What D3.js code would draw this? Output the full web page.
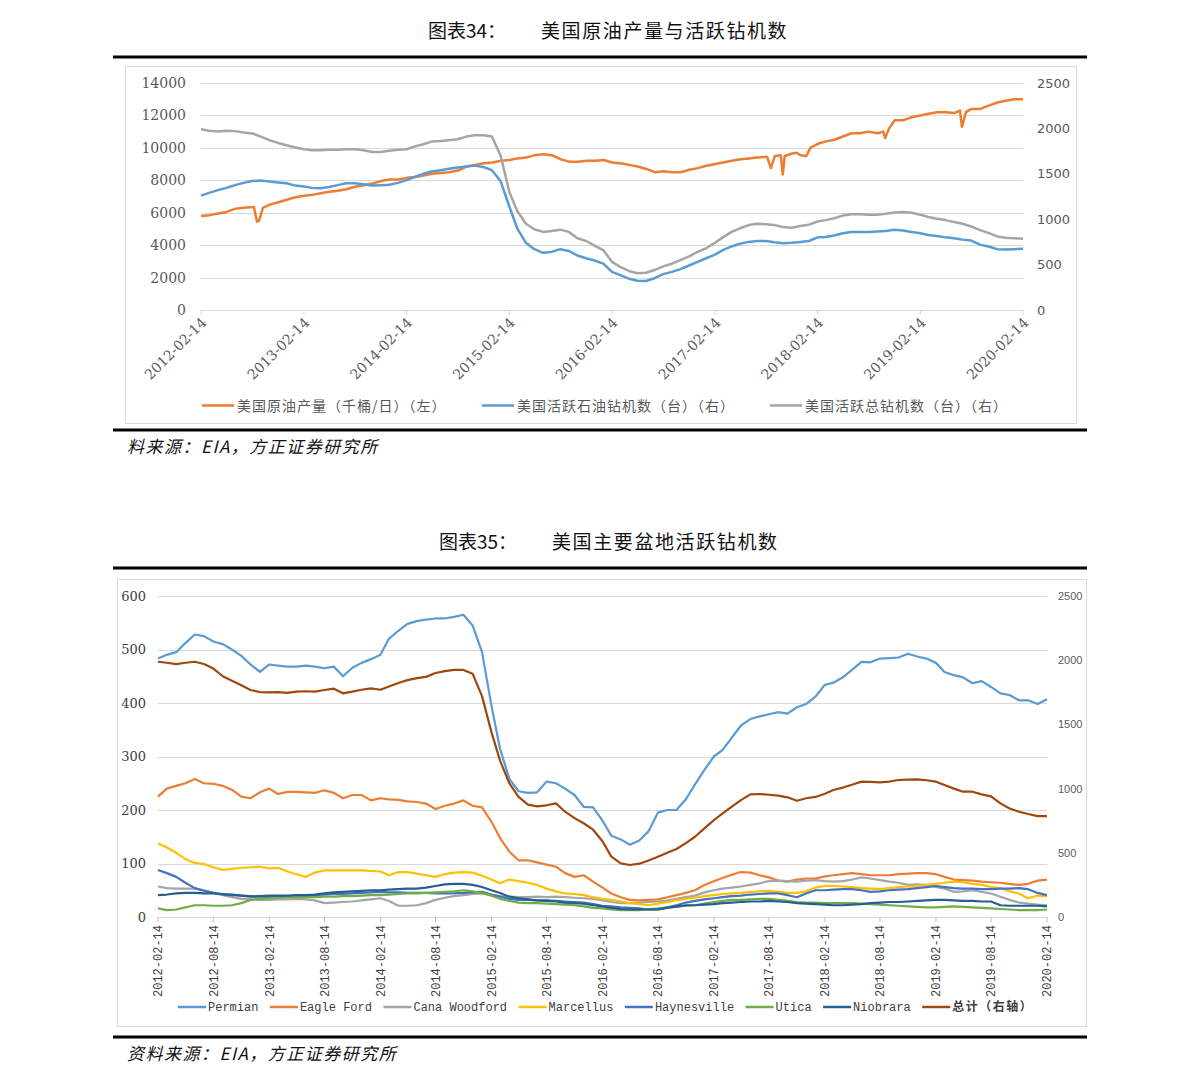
<!DOCTYPE html>
<html><head><meta charset="utf-8">
<script src="https://cdn.jsdelivr.net/npm/d3@7"></script>
<style>body{margin:0;background:#fff}svg{display:block}</style>
</head><body>
<svg id="c" width="1191" height="1086"></svg>
<script>
// ---------------- DATA ----------------
// Chart 34: US crude production (k b/d, left axis) — irregular dates to keep hurricane dips
const oilProdDates = ["2012-02-14","2012-03-15","2012-04-15","2012-05-15","2012-06-15","2012-07-15","2012-08-20","2012-08-31","2012-09-07","2012-09-21",
"2012-10-15","2012-11-15","2012-12-15","2013-01-15","2013-02-15","2013-03-15","2013-04-15","2013-05-15","2013-06-15","2013-07-15","2013-08-15",
"2013-09-15","2013-10-15","2013-11-15","2013-12-15","2014-01-15","2014-02-15","2014-03-15","2014-04-15","2014-05-15","2014-06-15","2014-07-15",
"2014-08-15","2014-09-15","2014-10-15","2014-11-15","2014-12-15","2015-01-15","2015-02-15","2015-03-15","2015-04-15","2015-05-15","2015-06-15",
"2015-07-15","2015-08-15","2015-09-15","2015-10-15","2015-11-15","2015-12-15","2016-01-15","2016-02-15","2016-03-15","2016-04-15","2016-05-15",
"2016-06-15","2016-07-15","2016-08-15","2016-09-15","2016-10-15","2016-11-15","2016-12-15","2017-01-15","2017-02-15","2017-03-15","2017-04-15",
"2017-05-15","2017-06-15","2017-07-15","2017-08-18","2017-09-01","2017-09-15","2017-10-06","2017-10-13","2017-10-20","2017-11-15","2017-12-01",
"2017-12-15","2018-01-05","2018-01-19","2018-02-15","2018-03-15","2018-04-15","2018-05-15","2018-06-15","2018-07-15","2018-08-15","2018-09-15",
"2018-10-05","2018-10-12","2018-10-26","2018-11-15","2018-12-15","2019-01-15","2019-02-15","2019-03-15","2019-04-15","2019-05-15","2019-06-15",
"2019-07-05","2019-07-12","2019-07-26","2019-08-15","2019-09-15","2019-10-15","2019-11-15","2019-12-15","2020-01-15","2020-02-14"];
const oilProd = [5800,5850,5950,6050,6250,6300,6350,5450,5500,6300,
6500,6650,6800,6950,7050,7100,7200,7300,7350,7450,7600,
7700,7800,7950,8050,8050,8150,8200,8300,8400,8450,8500,
8600,8850,8950,9050,9100,9200,9250,9350,9400,9550,9600,
9550,9300,9150,9150,9200,9200,9250,9100,9050,8950,8850,
8700,8500,8550,8500,8500,8650,8750,8900,9000,9100,9200,
9300,9350,9400,9450,8750,9500,9550,8350,9500,9650,9700,
9550,9500,10000,10250,10400,10500,10700,10900,10900,11000,10900,
11000,10600,11200,11700,11700,11900,12000,12100,12200,12200,12150,
12300,11300,12200,12400,12400,12600,12800,12900,13000,13000];

// monthly series, 2012-02-14 ... 2020-02-14 (97 points)
const oilRigs = [1260,1290,1320,1345,1375,1400,1420,1425,1415,1405,1395,
1370,1360,1345,1340,1355,1375,1395,1395,1385,1370,1375,1380,
1400,1430,1465,1500,1525,1540,1555,1570,1580,1590,1575,1540,
1420,1140,900,740,670,630,640,670,650,600,570,545,
510,420,385,345,322,320,350,395,420,450,490,530,
570,610,660,700,730,750,760,760,745,735,740,750,
760,800,805,820,845,860,860,860,865,870,885,875,
860,845,825,815,800,790,775,765,720,700,670,665,
670,675];
const totalRigs = [1990,1975,1965,1975,1970,1955,1945,1910,1870,1840,1815,
1790,1770,1760,1760,1765,1765,1770,1770,1760,1740,1740,1755,
1765,1770,1800,1825,1855,1860,1870,1880,1910,1925,1925,1910,
1700,1300,1090,950,890,860,870,885,860,790,760,710,
660,530,475,430,405,410,440,480,510,550,590,640,
680,740,800,860,900,935,950,945,935,915,905,925,
940,975,990,1010,1040,1055,1055,1050,1050,1060,1075,1080,
1070,1050,1025,1005,990,970,950,920,880,850,810,795,
790,785];

// Chart 35: basin rig counts (monthly, 97 points)
const permian = [483,490,495,512,528,525,515,510,500,488,472,
458,472,470,468,468,470,468,465,468,450,466,475,
482,490,520,535,548,553,556,558,558,561,565,545,
495,395,315,258,235,232,233,253,250,240,228,206,
205,180,152,145,135,143,160,195,200,200,220,248,
275,300,312,335,358,370,375,379,383,380,392,398,
412,434,438,448,462,477,476,483,484,485,492,487,
483,475,458,452,448,437,441,430,418,415,405,405,
398,407];
const eagleFord = [225,240,245,250,258,250,249,245,238,225,222,
233,240,230,234,234,233,232,237,232,222,228,228,
218,222,220,219,216,215,212,202,208,212,218,208,
205,178,148,122,106,106,102,98,94,82,75,78,
66,55,44,37,32,31,32,33,37,41,45,50,
60,67,73,79,84,83,78,74,68,66,70,72,
72,76,78,80,82,80,78,78,78,80,81,82,
82,80,75,70,69,68,66,65,64,62,60,62,
68,70];
const canaWoodford = [57,54,53,53,53,50,45,41,37,34,33,
32,32,33,33,34,33,31,26,27,28,29,31,
33,35,30,21,21,22,26,32,36,39,41,43,
44,41,39,38,37,37,38,37,38,37,36,35,
34,31,28,26,26,27,28,29,31,34,37,40,
46,50,53,55,57,60,63,67,68,67,66,68,
69,67,66,67,70,74,72,69,66,64,60,61,
60,56,53,47,48,50,47,44,38,32,27,25,
23,22];
const marcellus = [138,130,120,108,101,99,93,88,90,92,93,
94,91,92,85,80,75,83,87,87,87,87,87,
86,85,78,84,84,81,78,75,80,83,84,83,
77,70,63,70,67,64,60,53,48,44,43,41,
37,34,32,29,26,24,22,25,28,31,34,36,
39,41,43,44,45,47,48,49,47,45,45,48,
55,58,58,57,56,54,53,52,54,56,57,58,
60,62,64,66,65,62,60,56,54,48,44,35,
40,39];
const haynesville = [88,82,75,64,54,49,45,42,41,40,39,
38,37,37,38,39,40,41,42,43,43,44,45,
46,47,46,46,45,45,45,44,44,44,45,46,
47,42,38,34,32,32,31,31,30,29,28,27,
24,21,20,18,17,16,14,14,18,22,27,30,
33,35,37,39,40,42,43,44,44,41,37,44,
50,50,51,52,52,50,47,48,50,51,52,54,
56,58,56,54,53,53,52,52,53,53,54,52,
45,41];
const utica = [16,13,14,18,22,22,21,21,22,26,32,
34,35,36,37,37,37,37,38,38,39,39,40,
41,41,42,43,44,44,45,46,47,48,50,48,
45,40,34,30,27,26,26,25,24,23,22,20,
17,16,14,13,13,13,15,16,18,19,21,22,
25,28,30,32,32,33,34,34,32,30,28,27,
27,26,26,26,26,25,24,23,22,21,20,19,
18,18,19,20,19,18,17,16,15,14,13,13,
13,14];
const niobrara = [41,42,44,45,45,44,44,43,42,40,38,
39,40,40,40,41,41,42,44,46,47,48,49,
50,50,51,52,53,53,55,58,61,62,62,60,
56,50,45,38,35,33,31,30,29,27,26,25,
22,20,17,15,14,14,14,14,17,20,22,22,
23,24,26,27,28,29,29,30,29,28,26,25,
24,23,22,22,23,24,26,27,28,28,29,30,
31,32,32,31,30,30,29,29,22,21,21,21,
21,20];
const basinTotal = [1988,1980,1970,1980,1988,1970,1935,1875,1840,1805,1768,
1752,1750,1752,1745,1755,1758,1755,1768,1778,1742,1755,1770,
1780,1770,1795,1822,1845,1860,1870,1900,1915,1924,1924,1895,
1720,1440,1220,1040,935,875,862,870,885,820,770,730,
680,590,470,418,405,415,440,470,500,530,575,625,
690,755,805,860,910,955,958,952,945,932,905,925,
935,960,989,1008,1030,1054,1052,1048,1055,1067,1070,1072,
1065,1054,1028,1000,976,976,955,940,885,845,820,802,
786,786];

// tick labels
const topXTicks = ["2012-02-14","2013-02-14","2014-02-14","2015-02-14","2016-02-14","2017-02-14","2018-02-14","2019-02-14","2020-02-14"];
const topLeftTicks = [0,2000,4000,6000,8000,10000,12000,14000];
const topRightTicks = [0,500,1000,1500,2000,2500];
const botXTicks = ["2012-02-14","2012-08-14","2013-02-14","2013-08-14","2014-02-14","2014-08-14","2015-02-14","2015-08-14","2016-02-14","2016-08-14","2017-02-14","2017-08-14","2018-02-14","2018-08-14","2019-02-14","2019-08-14","2020-02-14"];
const botLeftTicks = [0,100,200,300,400,500,600];
const botRightTicks = [0,500,1000,1500,2000,2500];
const topLegend = ["美国原油产量（千桶/日）（左）","美国活跃石油钻机数（台）（右）","美国活跃总钻机数（台）（右）"];
const basinNames = ["Permian","Eagle Ford","Cana Woodford","Marcellus","Haynesville","Utica","Niobrara","总计（右轴）"];

// ---------------- DRAW ----------------
const parse = d3.timeParse("%Y-%m-%d");
const fmt = d3.format("d");
const monthDates = d3.range(oilRigs.length).map(i => new Date(2012, 1 + i, 14));
const svg = d3.select("#c");
const CJK = "'Noto Sans CJK SC', sans-serif";
const GRID = "#D9D9D9", TXT = "#595959";

function rule(y){ svg.append("rect").attr("x",113).attr("y",y).attr("width",974).attr("height",3).attr("fill","#000"); }
function heading(y, a, b, xa, xb){
  svg.append("text").attr("x",xa).attr("y",y).text(a).attr("font-family",CJK).attr("font-size",19).attr("fill","#111");
  svg.append("text").attr("x",xb).attr("y",y).text(b).attr("font-family",CJK).attr("font-size",19).attr("letter-spacing",1.6).attr("fill","#111");
}
function source(y, t){
  svg.append("text").attr("x",127).attr("y",y).text(t).attr("font-family",CJK).attr("font-size",17)
    .attr("font-style","italic").attr("letter-spacing",1.5).attr("fill","#111");
}

// ===== Chart 34 =====
heading(38,"图表34：","美国原油产量与活跃钻机数",428,541);
rule(55.5);
svg.append("rect").attr("x",125.5).attr("y",66.5).attr("width",951).attr("height",357).attr("fill","none").attr("stroke",GRID);

const xT = d3.scaleTime().domain([parse("2012-02-14"), parse("2020-02-14")]).range([201,1023]);
const yTL = d3.scaleLinear().domain([0,14000]).range([310,83]);
const yTR = d3.scaleLinear().domain([0,2500]).range([310,83]);

const gT = svg.append("g");
gT.append("g").selectAll("line").data(topLeftTicks).join("line")
  .attr("x1",201).attr("x2",1023).attr("y1",d=>Math.round(yTL(d))+0.5).attr("y2",d=>Math.round(yTL(d))+0.5)
  .attr("stroke",GRID).attr("stroke-width",1.2);
gT.append("g").selectAll("line").data(topXTicks).join("line")
  .attr("x1",d=>xT(parse(d))).attr("x2",d=>xT(parse(d))).attr("y1",310).attr("y2",315).attr("stroke",GRID);

const axL = gT.append("g").attr("transform","translate(201,0)").call(d3.axisLeft(yTL).tickValues(topLeftTicks).tickFormat(fmt).tickSize(0).tickPadding(15));
axL.select(".domain").remove();
axL.selectAll("text").attr("font-family","'DejaVu Serif', serif").attr("font-size",14).attr("fill",TXT);
const axR = gT.append("g").attr("transform","translate(1023,0)").call(d3.axisRight(yTR).tickValues(topRightTicks).tickFormat(fmt).tickSize(0).tickPadding(14));
axR.select(".domain").remove();
axR.selectAll("text").attr("font-family","'DejaVu Sans', sans-serif").attr("font-size",13).attr("fill",TXT);

gT.append("g").selectAll("text").data(topXTicks).join("text")
  .attr("transform",d=>`translate(${xT(parse(d))+3},${320}) rotate(-45)`)
  .attr("text-anchor","end").attr("dy","0.35em").text(d=>d)
  .attr("font-family","'DejaVu Serif', serif").attr("font-size",14).attr("fill",TXT);

const lineProd = d3.line().x((d,i)=>xT(parse(oilProdDates[i]))).y(d=>yTL(d));
const lineRigT = d3.line().x((d,i)=>xT(monthDates[i])).y(d=>yTR(d));
gT.append("path").attr("d",lineProd(oilProd)).attr("fill","none").attr("stroke","#ED7D31").attr("stroke-width",2.5).attr("stroke-linejoin","round");
gT.append("path").attr("d",lineRigT(oilRigs)).attr("fill","none").attr("stroke","#5B9BD5").attr("stroke-width",2.5).attr("stroke-linejoin","round");
gT.append("path").attr("d",lineRigT(totalRigs)).attr("fill","none").attr("stroke","#A5A5A5").attr("stroke-width",2.5).attr("stroke-linejoin","round");

const topLegX = [202,482,770], topLegC = ["#ED7D31","#5B9BD5","#A5A5A5"];
topLegend.forEach((t,i)=>{
  svg.append("line").attr("x1",topLegX[i]).attr("x2",topLegX[i]+32).attr("y1",405.5).attr("y2",405.5).attr("stroke",topLegC[i]).attr("stroke-width",2.5);
  svg.append("text").attr("x",topLegX[i]+35).attr("y",410.5).text(t).attr("font-family",CJK).attr("font-size",14)
    .attr("letter-spacing",1).attr("fill",TXT);
});
rule(428.5);
source(453,"料来源：EIA，方正证券研究所");

// ===== Chart 35 =====
heading(549,"图表35：","美国主要盆地活跃钻机数",439,552);
rule(566.5);
svg.append("rect").attr("x",117.5).attr("y",579.5).attr("width",969).attr("height",447).attr("fill","none").attr("stroke",GRID);

const xB = d3.scaleTime().domain([parse("2012-02-14"), parse("2020-02-14")]).range([158,1047]);
const yBL = d3.scaleLinear().domain([0,600]).range([917,596]);
const yBR = d3.scaleLinear().domain([0,2500]).range([917,596]);

const gB = svg.append("g");
gB.append("g").selectAll("line").data(botLeftTicks).join("line")
  .attr("x1",158).attr("x2",1047).attr("y1",d=>Math.round(yBL(d))+0.5).attr("y2",d=>Math.round(yBL(d))+0.5)
  .attr("stroke",GRID).attr("stroke-width",1.2);
gB.append("g").selectAll("line").data(botXTicks).join("line")
  .attr("x1",d=>xB(parse(d))).attr("x2",d=>xB(parse(d))).attr("y1",917).attr("y2",922).attr("stroke","#BFBFBF");

const bL = gB.append("g").attr("transform","translate(158,0)").call(d3.axisLeft(yBL).tickValues(botLeftTicks).tickFormat(fmt).tickSize(0).tickPadding(12));
bL.select(".domain").remove();
bL.selectAll("text").attr("font-family","'DejaVu Serif', serif").attr("font-size",13).attr("fill","#404040");
const bR = gB.append("g").attr("transform","translate(1047,0)").call(d3.axisRight(yBR).tickValues(botRightTicks).tickFormat(fmt).tickSize(0).tickPadding(11));
bR.select(".domain").remove();
bR.selectAll("text").attr("font-family","'Liberation Sans', sans-serif").attr("font-size",11).attr("fill",TXT);

gB.append("g").selectAll("text").data(botXTicks).join("text")
  .attr("transform",d=>`translate(${xB(parse(d))},${925}) rotate(-90)`)
  .attr("text-anchor","end").attr("dy","0.35em").text(d=>d)
  .attr("font-family","'Liberation Mono', monospace").attr("font-size",12).attr("fill","#404040");

const basinSeries = [permian, eagleFord, canaWoodford, marcellus, haynesville, utica, niobrara, basinTotal];
const basinColors = ["#5B9BD5","#ED7D31","#A5A5A5","#FFC000","#4472C4","#70AD47","#255E91","#9E480E"];
const lineBL = d3.line().x((d,i)=>xB(monthDates[i])).y(d=>yBL(d));
const lineBR = d3.line().x((d,i)=>xB(monthDates[i])).y(d=>yBR(d));
basinSeries.forEach((s,i)=>{
  gB.append("path").attr("d",(i===7?lineBR:lineBL)(s)).attr("fill","none")
    .attr("stroke",basinColors[i]).attr("stroke-width",2.2).attr("stroke-linejoin","round");
});

// legend laid out sequentially
let lx = 178;
basinNames.forEach((n,i)=>{
  svg.append("line").attr("x1",lx).attr("x2",lx+28).attr("y1",1007).attr("y2",1007).attr("stroke",basinColors[i]).attr("stroke-width",2.5);
  const t = svg.append("text").attr("x",lx+30).attr("y",1011).text(n)
    .attr("font-family","'Liberation Mono', 'Noto Sans CJK SC', monospace").attr("font-size",12)
    .attr("font-weight", i===7 ? "bold" : "normal").attr("fill","#404040")
    .attr("letter-spacing", i===7 ? 1.5 : 0);
  lx = lx + 30 + t.node().getComputedTextLength() + 11.5;
});
rule(1035.5);
source(1060,"资料来源：EIA，方正证券研究所");
</script>
</body></html>
